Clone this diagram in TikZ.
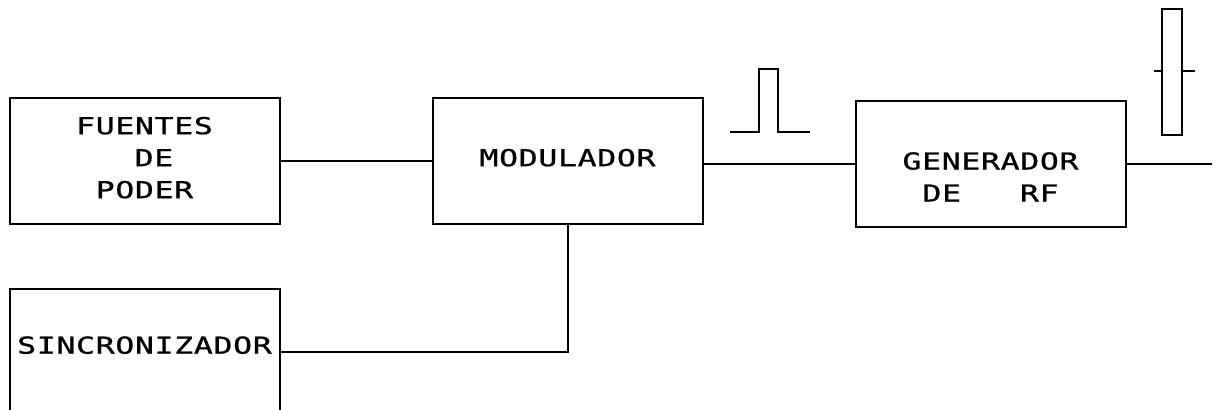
\documentclass[tikz,border=0pt]{standalone}
\usepackage{fontspec}
\newfontfamily\plotfont{DejaVu Sans Mono}[FakeStretch=1.35,LetterSpace=3,FakeBold=1]
\usetikzlibrary{positioning}

\begin{document}
\begin{tikzpicture}[
		x=0.5pt, y=-0.5pt,
		line width=1pt,
		node distance=31.5pt and 75.5pt,
		block/.style={
			draw,
			align=center,
			minimum width=135pt,
			minimum height=63pt,
			inner sep=0pt,
			text depth=3.5pt,
			font=\plotfont\fontsize{11.65}{16}\selectfont
		},
		pulse/.style={line width=1pt}
		]
		\path[use as bounding box, clip] (0,0) rectangle (1221,409);
		
		% Blocks
		\node[block] (fuentes) at (144.5,161) {
			FUENTES\\
			\phantom{D}DE\\
			PODER
		};
		
		\node[block, right=of fuentes] (modulador) {MODULADOR};
		
		\node[block, right=of modulador, yshift=-1.5pt, text height=41pt] (generador) {
			GENERADOR\\
			DE~~~RF
		};
		
		\node[block, below=of fuentes, text depth=7pt] (sincro) {SINCRONIZADOR};
		
		% Output end
		\coordinate (salida) at (1212,166);
		
		% Lines
		\draw (fuentes.east) -- (modulador.west);
		\draw (modulador.east |- generador.west) -- (generador.west);
		\draw (sincro.east) -| (modulador.south);
		\draw (generador.east) -- (generador.east -| salida);
		
		% Pulse shapes
		\draw[pulse] (730,132) -- (759,132) -- (759,69) -- (778,69) -- (778,132) -- (810,132);
		\draw[pulse] (1162,9) rectangle (1182,135);
		\draw[pulse] (1154,71) -- (1162,71) (1182,71) -- (1195,71);
		
\end{tikzpicture}
\end{document}
